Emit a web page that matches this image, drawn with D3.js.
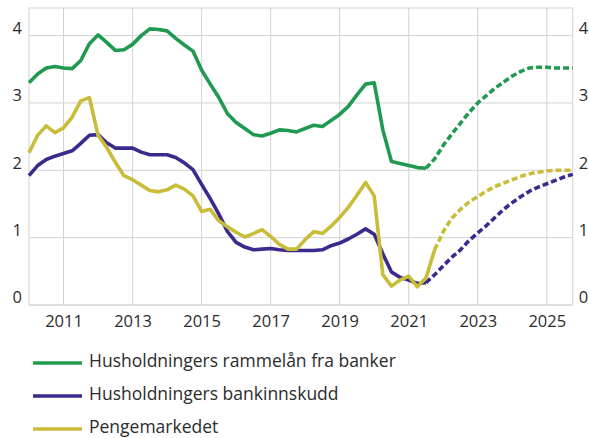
<!DOCTYPE html>
<html>
<head>
<meta charset="utf-8">
<script src="https://cdn.jsdelivr.net/npm/d3@7"></script>
<style>
  html, body { margin: 0; padding: 0; background: #ffffff; }
  svg { display: block; font-family: "Open Sans", "Noto Sans", sans-serif; }
</style>
</head>
<body>
<svg id="chart" width="589" height="438"></svg>
<script>
// ---- Data (quarterly, 2010Q1 - 2025Q4) ----
const quarters = [
  "2010Q1","2010Q2","2010Q3","2010Q4","2011Q1","2011Q2","2011Q3","2011Q4",
  "2012Q1","2012Q2","2012Q3","2012Q4","2013Q1","2013Q2","2013Q3","2013Q4",
  "2014Q1","2014Q2","2014Q3","2014Q4","2015Q1","2015Q2","2015Q3","2015Q4",
  "2016Q1","2016Q2","2016Q3","2016Q4","2017Q1","2017Q2","2017Q3","2017Q4",
  "2018Q1","2018Q2","2018Q3","2018Q4","2019Q1","2019Q2","2019Q3","2019Q4",
  "2020Q1","2020Q2","2020Q3","2020Q4","2021Q1","2021Q2","2021Q3","2021Q4",
  "2022Q1","2022Q2","2022Q3","2022Q4","2023Q1","2023Q2","2023Q3","2023Q4",
  "2024Q1","2024Q2","2024Q3","2024Q4","2025Q1","2025Q2","2025Q3","2025Q4"
];

const seriesNames = [
  "Husholdningers rammelån fra banker",
  "Husholdningers bankinnskudd",
  "Pengemarkedet"
];

const rammelan = [
  3.30,3.43,3.52,3.54,3.52,3.51,3.63,3.88,
  4.01,3.90,3.78,3.79,3.87,4.00,4.10,4.09,
  4.07,3.96,3.86,3.77,3.49,3.28,3.08,2.84,
  2.71,2.62,2.53,2.51,2.55,2.60,2.59,2.57,
  2.62,2.67,2.65,2.74,2.83,2.95,3.12,3.28,
  3.30,2.60,2.13,2.10,2.07,2.04,2.03,2.17,
  2.37,2.54,2.70,2.86,3.00,3.11,3.22,3.31,
  3.40,3.47,3.52,3.53,3.53,3.52,3.52,3.52
];

const bankinnskudd = [
  1.92,2.07,2.16,2.21,2.25,2.29,2.40,2.52,
  2.53,2.41,2.33,2.33,2.33,2.27,2.23,2.23,
  2.23,2.19,2.11,2.01,1.79,1.58,1.35,1.09,
  0.93,0.86,0.82,0.83,0.84,0.82,0.81,0.81,
  0.81,0.81,0.82,0.88,0.92,0.98,1.05,1.13,
  1.05,0.76,0.49,0.41,0.37,0.32,0.33,0.45,
  0.58,0.71,0.82,0.96,1.07,1.18,1.30,1.42,
  1.52,1.61,1.69,1.75,1.80,1.85,1.90,1.94
];

const pengemarkedet = [
  2.26,2.52,2.66,2.56,2.63,2.79,3.03,3.08,
  2.52,2.34,2.12,1.92,1.86,1.78,1.70,1.68,
  1.71,1.78,1.72,1.62,1.39,1.42,1.25,1.16,
  1.08,1.01,1.06,1.12,1.02,0.90,0.83,0.83,
  0.97,1.09,1.06,1.17,1.30,1.45,1.63,1.82,
  1.62,0.45,0.28,0.37,0.43,0.27,0.40,0.82,
  1.09,1.29,1.42,1.53,1.61,1.69,1.76,1.81,
  1.86,1.91,1.95,1.97,1.99,2.00,2.00,2.00
];

// last observed quarter for each series (forecast dashed afterwards)
const lastActual = ["2021Q3", "2021Q3", "2021Q4"];

const xTickYears = [2011, 2013, 2015, 2017, 2019, 2021, 2023, 2025];
const yTicks = [0, 1, 2, 3, 4];
const colors = ["#1f9a50", "#3b2a8e", "#c9bc38"];

// ---- Layout ----
const svg = d3.select("#chart");
const W = 589, H = 438;
const margin = { left: 29, right: 16.3, top: 8, bottom: 133 };
const innerW = W - margin.left - margin.right;
const innerH = H - margin.top - margin.bottom;

const qToNum = q => +q.slice(0, 4) + (+q.slice(5) - 1) / 4;

const x = d3.scaleLinear()
  .domain([qToNum(quarters[0]), qToNum(quarters[quarters.length - 1])])
  .range([margin.left, margin.left + innerW]);
const y = d3.scaleLinear()
  .domain([0, 4.41])
  .range([margin.top + innerH, margin.top]);

const gridColor = "#d2d2d2";
const textColor = "#2b2b2b";

// gridlines
const g = svg.append("g");
g.selectAll("line.h").data(yTicks).join("line")
  .attr("x1", margin.left).attr("x2", margin.left + innerW)
  .attr("y1", d => y(d)).attr("y2", d => y(d))
  .attr("stroke", gridColor).attr("stroke-width", 1);
g.selectAll("line.v").data(xTickYears).join("line")
  .attr("x1", d => x(d)).attr("x2", d => x(d))
  .attr("y1", margin.top).attr("y2", y(0))
  .attr("stroke", gridColor).attr("stroke-width", 1);
// frame
g.append("rect")
  .attr("x", margin.left).attr("y", margin.top)
  .attr("width", innerW).attr("height", y(0) - margin.top)
  .attr("fill", "none").attr("stroke", gridColor).attr("stroke-width", 1);

// axes (text only)
const xAxis = d3.axisBottom(x).tickValues(xTickYears).tickFormat(d3.format("d")).tickSize(0).tickPadding(10);
svg.append("g").attr("transform", `translate(0,${y(0)})`).call(xAxis)
  .call(s => s.select(".domain").remove())
  .call(s => s.selectAll("text").attr("font-size", 16.5).attr("fill", textColor)
    .attr("font-family", "'Open Sans', sans-serif").attr("dy", "0.71em"));

const yAxisL = d3.axisLeft(y).tickValues(yTicks).tickFormat(d3.format("d")).tickSize(0).tickPadding(7);
svg.append("g").attr("transform", `translate(${margin.left},0)`).call(yAxisL)
  .call(s => s.select(".domain").remove())
  .call(s => s.selectAll("text").attr("font-size", 16.5).attr("fill", textColor)
    .attr("font-family", "'Open Sans', sans-serif").attr("dy", "-0.13em"));

const yAxisR = d3.axisRight(y).tickValues(yTicks).tickFormat(d3.format("d")).tickSize(0).tickPadding(6);
svg.append("g").attr("transform", `translate(${margin.left + innerW},0)`).call(yAxisR)
  .call(s => s.select(".domain").remove())
  .call(s => s.selectAll("text").attr("font-size", 16.5).attr("fill", textColor)
    .attr("font-family", "'Open Sans', sans-serif").attr("dy", "-0.13em"));

// lines
const allSeries = [rammelan, bankinnskudd, pengemarkedet];
const line = d3.line().x(d => x(qToNum(d.q))).y(d => y(d.v)).curve(d3.curveLinear);

allSeries.forEach((vals, i) => {
  const pts = quarters.map((q, k) => ({ q, v: vals[k] }));
  const cut = quarters.indexOf(lastActual[i]);
  const hist = pts.slice(0, cut + 1);
  const fc = pts.slice(cut);
  svg.append("path").attr("d", line(fc))
    .attr("fill", "none").attr("stroke", colors[i]).attr("stroke-width", 3.6)
    .attr("stroke-dasharray", "6,3").attr("stroke-linejoin", "round");
  svg.append("path").attr("d", line(hist))
    .attr("fill", "none").attr("stroke", colors[i]).attr("stroke-width", 3.6)
    .attr("stroke-linejoin", "round").attr("stroke-linecap", "butt");
});

// legend
const legend = svg.append("g");
const legY0 = 363, legStep = 33;
seriesNames.forEach((name, i) => {
  const yy = legY0 + i * legStep;
  legend.append("line").attr("x1", 33).attr("x2", 82).attr("y1", yy).attr("y2", yy)
    .attr("stroke", colors[i]).attr("stroke-width", 3.6);
  legend.append("text").attr("x", 89).attr("y", yy + 4)
    .attr("font-size", 17.5).attr("fill", textColor)
    .attr("font-family", "'Open Sans', sans-serif")
    .text(name);
});
</script>
</body>
</html>
